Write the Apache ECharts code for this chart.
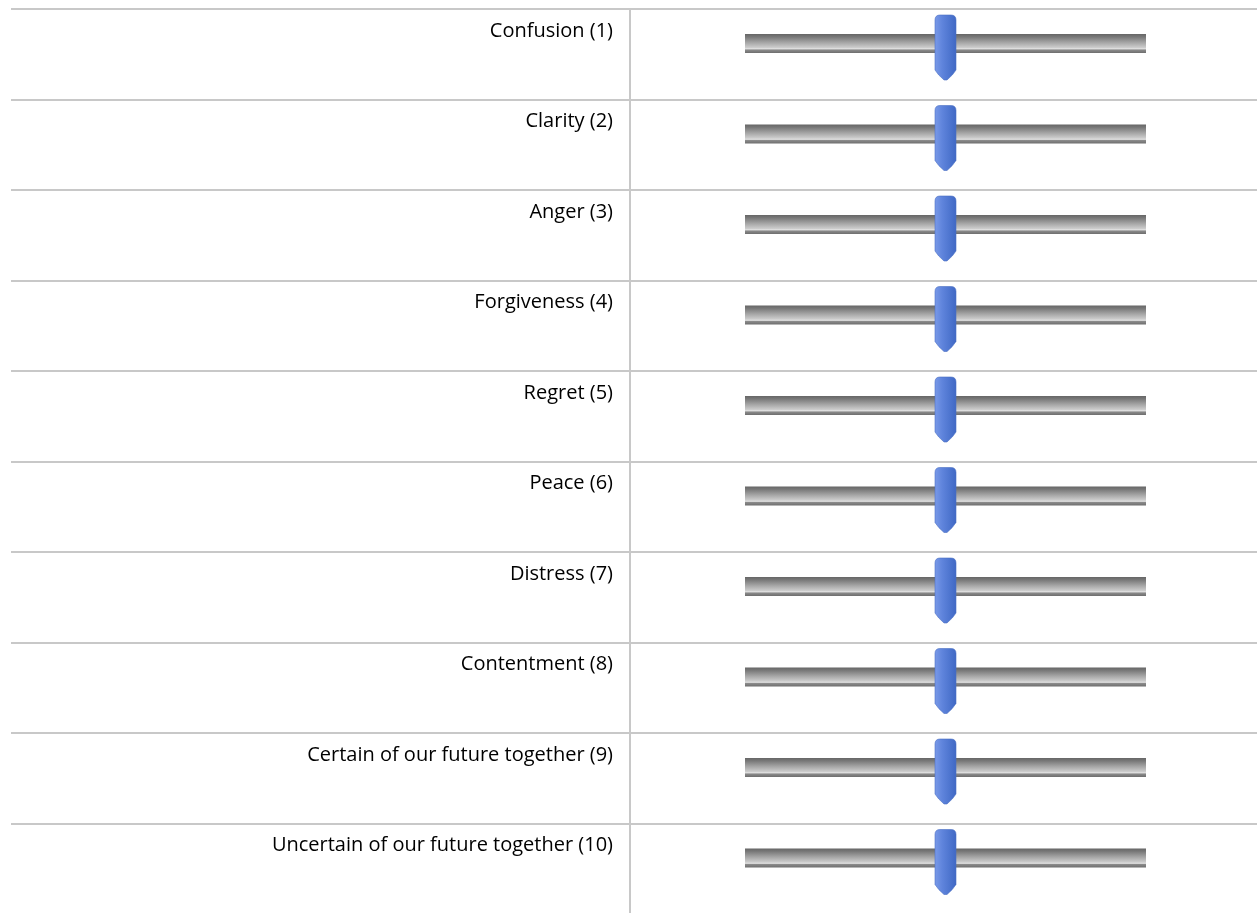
<!DOCTYPE html>
<html>
<head>
<meta charset="utf-8">
<script src="https://cdn.jsdelivr.net/npm/echarts@6/dist/echarts.min.js"></script>
<style>
html,body{margin:0;padding:0;background:#fff;}
#chart{width:1257px;height:913px;}
</style>
</head>
<body>
<div id="chart"></div>
<script>
const categories = [
  'Confusion (1)',
  'Clarity (2)',
  'Anger (3)',
  'Forgiveness (4)',
  'Regret (5)',
  'Peace (6)',
  'Distress (7)',
  'Contentment (8)',
  'Certain of our future together (9)',
  'Uncertain of our future together (10)'
];
const values = [50, 50, 50, 50, 50, 50, 50, 50, 50, 50];
const sliderMin = 0;
const sliderMax = 100;

const chart = echarts.init(document.getElementById('chart'));

const trackFill = new echarts.graphic.LinearGradient(0, 0, 0, 1, [
  {offset: 0, color: '#666666'},
  {offset: 0.15, color: '#787878'},
  {offset: 0.45, color: '#a6a6a6'},
  {offset: 0.72, color: '#cdcdcd'},
  {offset: 0.78, color: '#e4e4e4'},
  {offset: 0.84, color: '#8a8a8a'},
  {offset: 1, color: '#6e6e6e'}
]);
const thumbFill = new echarts.graphic.LinearGradient(0, 0, 1, 0, [
  {offset: 0, color: '#7a9ae8'},
  {offset: 0.35, color: '#5f84dc'},
  {offset: 1, color: '#3f68c4'}
]);

function renderItem(params, api) {
  const v = api.value(0);
  const idx = api.value(1);
  const c = api.coord([v, idx]);
  const bandH = api.size([0, 1])[1];
  const top = c[1] - bandH / 2;
  const x0 = api.coord([sliderMin, idx])[0];
  const x1 = api.coord([sliderMax, idx])[0];
  const tw = 21;
  return {
    type: 'group',
    children: [
      {
        type: 'text',
        style: {
          text: categories[idx],
          x: x0 - 132,
          y: top + 22,
          align: 'right',
          verticalAlign: 'middle',
          font: '20px "Open Sans", sans-serif',
          fill: '#000'
        }
      },
      {
        type: 'rect',
        shape: {x: x0, y: top + 25, width: x1 - x0, height: 19},
        style: {fill: trackFill}
      },
      {
        type: 'path',
        shape: {
          pathData: 'M0,5 Q0,0 5,0 L16,0 Q21,0 21,5 L21,55 Q18,60 12,65 L9,65 Q3,60 0,55 Z',
          x: c[0] - tw / 2,
          y: top + 6,
          width: tw,
          height: 65,
          layout: 'cover'
        },
        style: {fill: thumbFill, stroke: '#4a6fc2', lineWidth: 0.6}
      }
    ]
  };
}

chart.setOption({
  backgroundColor: '#fff',
  animation: false,
  grid: [
    {left: 11, right: 0, top: 9, height: 905, outerBoundsMode: 'none'},
    {left: 745, width: 401, top: 9, height: 905, outerBoundsMode: 'none'},
    {left: 630, right: 0, top: 9, bottom: 0, outerBoundsMode: 'none'}
  ],
  xAxis: [
    {gridIndex: 0, type: 'value', show: false, min: 0, max: 1},
    {gridIndex: 1, type: 'value', show: false, min: sliderMin, max: sliderMax},
    {gridIndex: 2, type: 'value', show: false, min: 0, max: 1}
  ],
  yAxis: [
    {
      gridIndex: 0, type: 'category', data: categories, inverse: true,
      axisLine: {show: false}, axisTick: {show: false}, axisLabel: {show: false},
      splitLine: {show: true, lineStyle: {color: '#c8c8c8', width: 2}}
    },
    {
      gridIndex: 1, type: 'category', data: categories, inverse: true, show: false
    },
    {
      gridIndex: 2, type: 'category', data: categories, inverse: true,
      axisLine: {show: true, lineStyle: {color: '#c8c8c8', width: 2}},
      axisTick: {show: false}, axisLabel: {show: false}, splitLine: {show: false}
    }
  ],
  series: [
    {
      type: 'custom',
      xAxisIndex: 1,
      yAxisIndex: 1,
      clip: false,
      renderItem: renderItem,
      encode: {x: 0, y: 1},
      data: values.map((v, i) => [v, i])
    }
  ]
});
</script>
</body>
</html>
